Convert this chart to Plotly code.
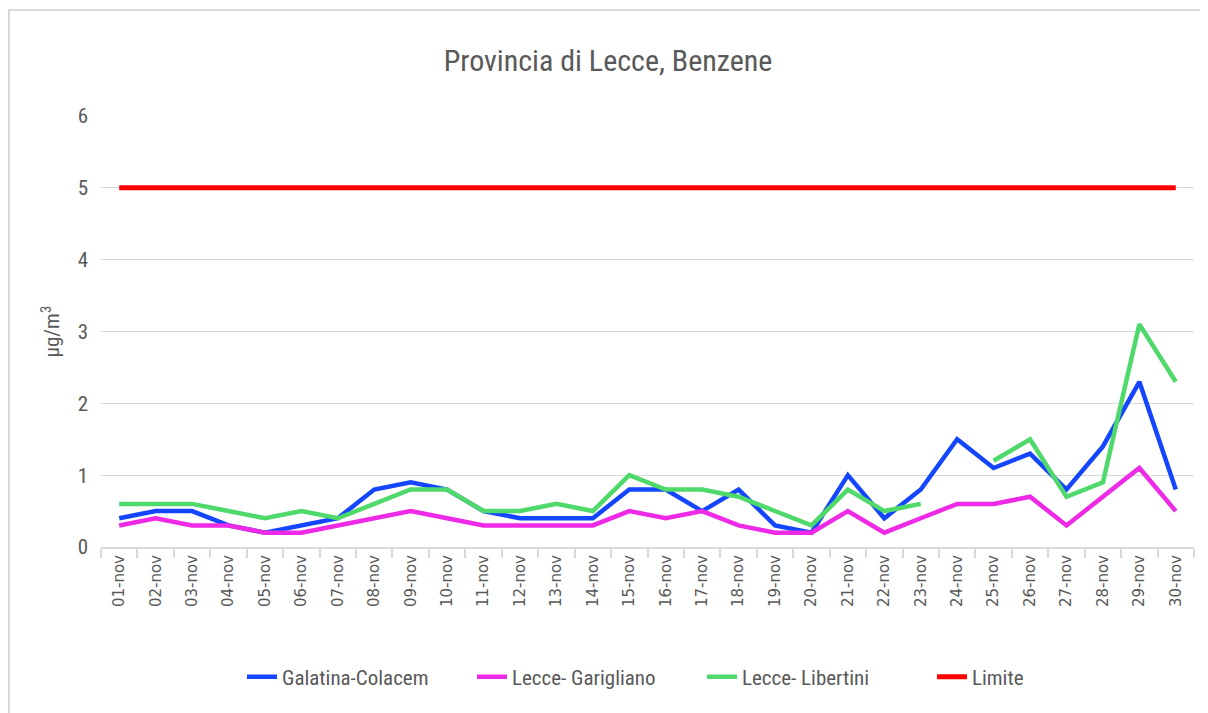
import plotly.graph_objects as go

days = [f"{d:02d}-nov" for d in range(1, 31)]

galatina = [0.4, 0.5, 0.5, 0.3, 0.2, 0.3, 0.4, 0.8, 0.9, 0.8,
            0.5, 0.4, 0.4, 0.4, 0.8, 0.8, 0.5, 0.8, 0.3, 0.2,
            1.0, 0.4, 0.8, 1.5, 1.1, 1.3, 0.8, 1.4, 2.3, 0.8]
garigliano = [0.3, 0.4, 0.3, 0.3, 0.2, 0.2, 0.3, 0.4, 0.5, 0.4,
              0.3, 0.3, 0.3, 0.3, 0.5, 0.4, 0.5, 0.3, 0.2, 0.2,
              0.5, 0.2, 0.4, 0.6, 0.6, 0.7, 0.3, 0.7, 1.1, 0.5]
libertini = [0.6, 0.6, 0.6, 0.5, 0.4, 0.5, 0.4, 0.6, 0.8, 0.8,
             0.5, 0.5, 0.6, 0.5, 1.0, 0.8, 0.8, 0.7, 0.5, 0.3,
             0.8, 0.5, 0.6, None, 1.2, 1.5, 0.7, 0.9, 3.1, 2.3]
limite = [5] * 30

series_names = ["Galatina-Colacem", "Lecce- Garigliano", "Lecce- Libertini", "Limite"]
series_values = [galatina, garigliano, libertini, limite]
series_colors = ["#1446FF", "#EE2AE6", "#4ED96A", "#FF0000"]
series_widths = [4.5, 4.5, 4.5, 5]

narrow = "Liberation Sans Narrow, Arial Narrow, Roboto Condensed, Roboto, sans-serif"

W, H = 1200, 705
L, R, T, B = 93, 14, 108, 166
pw, ph = W - L - R, H - T - B

fig = go.Figure()
for name, vals, col, w in zip(series_names, series_values, series_colors, series_widths):
    fig.add_trace(go.Scatter(x=days, y=vals, mode="lines", name=name,
                             line=dict(color=col, width=w), connectgaps=False))

fig.update_layout(
    width=W, height=H,
    paper_bgcolor="white", plot_bgcolor="white",
    margin=dict(l=L, r=R, t=T, b=B, autoexpand=False),
    title=dict(text="Provincia di Lecce, Benzene", x=0.5, xanchor="center",
               y=1 - 52 / H, yanchor="middle",
               font=dict(family=narrow, size=30, color="#595959")),
    xaxis=dict(type="category", range=[-0.5, 29.5], tickson="boundaries", ticks="outside",
               ticklen=9, tickcolor="#d9d9d9", tickwidth=1.5,
               showline=True, linecolor="#d9d9d9", linewidth=2,
               showgrid=False, tickangle=-90,
               tickfont=dict(family="DejaVu Sans", size=15, color="#595959")),
    yaxis=dict(range=[0, 6], dtick=1, showgrid=True, gridcolor="#d9d9d9",
               gridwidth=1, zeroline=False, showline=False, ticks="",
               ticklabelstandoff=12,
               tickfont=dict(family=narrow, size=21, color="#595959")),
    legend=dict(orientation="h", x=(234 - L) / pw, xanchor="left", y=-130 / ph, yanchor="middle",
                font=dict(family=narrow, size=21, color="#595959"),
                entrywidth=185, entrywidthmode="pixels", traceorder="normal"),
    showlegend=True,
)

fig.add_annotation(text="μg/m<sup>3</sup>", xref="paper", yref="paper",
                   x=-51 / pw, y=0.5, textangle=-90, showarrow=False,
                   xanchor="center", yanchor="middle",
                   font=dict(family=narrow, size=21, color="#595959"))

fig.add_shape(type="rect", xref="paper", yref="paper",
              x0=-(L - 1) / pw, x1=1.2, y0=-0.6, y1=1 + (T - 2) / ph,
              line=dict(color="#d9d9d9", width=2), fillcolor="rgba(0,0,0,0)")

fig.write_html("out.html")
